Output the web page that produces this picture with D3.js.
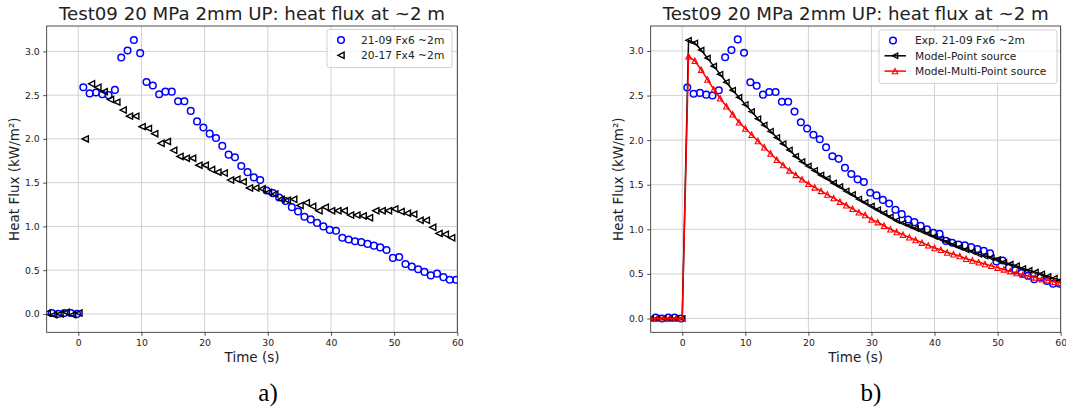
<!DOCTYPE html>
<html>
<head>
<meta charset="utf-8">
<script src="https://cdnjs.cloudflare.com/ajax/libs/d3/7.8.5/d3.min.js"></script>
<style>
body { margin: 0; background: #fff; }
text { font-family: "DejaVu Sans", sans-serif; fill: #222; }
</style>
</head>
<body>
<script>
// values (time in s, flux in kW/m2)
var expTime = [-4.2, -3.2, -2.2, -1.2, -0.2,
    0.8, 1.8, 2.8, 3.8, 4.8, 5.8, 6.8, 7.8, 8.8, 9.8,
    10.8, 11.8, 12.8, 13.8, 14.8, 15.8, 16.8, 17.8, 18.8, 19.8,
    20.8, 21.8, 22.8, 23.8, 24.8, 25.8, 26.8, 27.8, 28.8, 29.8,
    30.8, 31.8, 32.8, 33.8, 34.8, 35.8, 36.8, 37.8, 38.8, 39.8,
    40.8, 41.8, 42.8, 43.8, 44.8, 45.8, 46.8, 47.8, 48.8, 49.8,
    50.8, 51.8, 52.8, 53.8, 54.8, 55.8, 56.8, 57.8, 58.8, 59.8];
var expFlux = [0.01, 0.00, 0.01, 0.01, 0.00,
    2.59, 2.52, 2.53, 2.51, 2.50, 2.56, 2.93, 3.01, 3.13, 2.98,
    2.65, 2.61, 2.51, 2.54, 2.54, 2.43, 2.43, 2.32, 2.20, 2.13,
    2.06, 2.01, 1.92, 1.82, 1.79, 1.69, 1.62, 1.56, 1.53, 1.41,
    1.38, 1.33, 1.29, 1.22, 1.17, 1.11, 1.08, 1.04, 1.00, 0.96,
    0.95, 0.87, 0.85, 0.83, 0.82, 0.80, 0.78, 0.76, 0.73, 0.64,
    0.65, 0.57, 0.54, 0.51, 0.48, 0.44, 0.46, 0.42, 0.39, 0.39];

var refTime = [-4.9, -3.9, -2.9, -1.9, -0.9, 0.1,
    1.1, 2.1, 3.1, 4.1, 5.1, 6.1, 7.1, 8.1, 9.1,
    10.1, 11.1, 12.1, 13.1, 14.1, 15.1, 16.1, 17.1, 18.1, 19.1,
    20.1, 21.1, 22.1, 23.1, 24.1, 25.1, 26.1, 27.1, 28.1, 29.1,
    30.1, 31.1, 32.1, 33.1, 34.1, 35.1, 36.1, 37.1, 38.1, 39.1,
    40.1, 41.1, 42.1, 43.1, 44.1, 45.1, 46.1, 47.1, 48.1, 49.1,
    50.1, 51.1, 52.1, 53.1, 54.1, 55.1, 56.1, 57.1, 58.1, 59.1];
var refFlux = [0.01, -0.01, 0.00, 0.02, -0.01, 0.01,
    2.00, 2.63, 2.59, 2.54, 2.45, 2.42, 2.33, 2.26, 2.26,
    2.14, 2.12, 2.06, 1.95, 1.97, 1.87, 1.80, 1.78, 1.78, 1.70,
    1.70, 1.65, 1.62, 1.61, 1.53, 1.54, 1.51, 1.44, 1.44, 1.43,
    1.39, 1.37, 1.31, 1.30, 1.31, 1.24, 1.27, 1.23, 1.18, 1.22,
    1.18, 1.18, 1.18, 1.13, 1.13, 1.12, 1.10, 1.18, 1.18, 1.18,
    1.20, 1.17, 1.15, 1.14, 1.07, 1.07, 0.99, 0.92, 0.91, 0.87];

var modelTime = [-5, -4, -3, -2, -1, 0,
    1, 2, 3, 4, 5, 6, 7, 8, 9, 10,
    11, 12, 13, 14, 15, 16, 17, 18, 19, 20,
    21, 22, 23, 24, 25, 26, 27, 28, 29, 30,
    31, 32, 33, 34, 35, 36, 37, 38, 39, 40,
    41, 42, 43, 44, 45, 46, 47, 48, 49, 50,
    51, 52, 53, 54, 55, 56, 57, 58, 59, 60];
var pointSource = [0, 0, 0, 0, 0, 0,
    3.12, 3.09, 3.01, 2.92, 2.83, 2.74, 2.65, 2.56, 2.48, 2.40,
    2.32, 2.24, 2.17, 2.10, 2.03, 1.96, 1.89, 1.82, 1.76, 1.71,
    1.66, 1.61, 1.57, 1.52, 1.48, 1.43, 1.39, 1.34, 1.30, 1.26,
    1.22, 1.18, 1.14, 1.10, 1.07, 1.04, 1.01, 0.98, 0.95, 0.92,
    0.89, 0.86, 0.83, 0.80, 0.77, 0.75, 0.72, 0.70, 0.68, 0.66,
    0.63, 0.61, 0.59, 0.56, 0.54, 0.52, 0.50, 0.47, 0.45, 0.43];
var multiSource = [0, 0, 0, 0, 0, 0,
    2.94, 2.89, 2.79, 2.68, 2.57, 2.47, 2.38, 2.29, 2.20, 2.13,
    2.06, 1.99, 1.92, 1.85, 1.78, 1.72, 1.66, 1.61, 1.56, 1.51,
    1.47, 1.43, 1.39, 1.35, 1.31, 1.27, 1.23, 1.19, 1.16, 1.11,
    1.08, 1.04, 1.00, 0.97, 0.94, 0.91, 0.88, 0.85, 0.82, 0.79,
    0.77, 0.74, 0.72, 0.70, 0.67, 0.65, 0.63, 0.61, 0.59, 0.57,
    0.55, 0.53, 0.51, 0.49, 0.47, 0.46, 0.44, 0.43, 0.41, 0.40];

var xTicks = [0, 10, 20, 30, 40, 50, 60];
var yTicks = [0, 0.5, 1.0, 1.5, 2.0, 2.5, 3.0];
var titleText = "Test09 20 MPa 2mm UP: heat flux at ~2 m";
var leftLegend = ["21-09 Fx6 ~2m", "20-17 Fx4 ~2m"];
var rightLegend = ["Exp. 21-09 Fx6 ~2m", "Model-Point source", "Model-Multi-Point source"];

var svg = d3.select("body").append("svg")
            .attr("width", 1066)
            .attr("height", 410);

var plotTop = 26,
    plotBottom = 332.3,
    gridColor = "#d2d2d2",
    circleR = 3.3;

// matplotlib-like triangle, bounding box centred on the point
function triPath(r, dir) {
    if (dir === "left") {
        return "M" + (-r) + ",0L" + r + "," + (-r) + "L" + r + "," + r + "Z";
    }
    return "M0," + (-r) + "L" + r + "," + r + "L" + (-r) + "," + r + "Z";
}

function zip(xs, ys) {
    return xs.map(function(d, i) { return [d, ys[i]]; });
}

function drawPanel(opt) {
    var g = svg.append("g"),
        x = d3.scaleLinear().domain([-5, 60]).range([opt.left, opt.right]),
        y = d3.scaleLinear().domain(opt.yDomain).range([plotBottom, plotTop]);

    g.append("clipPath")
     .attr("id", opt.id + "clip")
     .append("rect")
     .attr("x", opt.left)
     .attr("y", plotTop)
     .attr("width", opt.right - opt.left)
     .attr("height", plotBottom - plotTop);

    // grid
    g.selectAll(".vgrid")
     .data(xTicks)
     .enter().append("line")
     .attr("x1", function(d) { return x(d); })
     .attr("x2", function(d) { return x(d); })
     .attr("y1", plotTop)
     .attr("y2", plotBottom)
     .style("stroke", gridColor)
     .style("stroke-width", 1);
    g.selectAll(".hgrid")
     .data(yTicks)
     .enter().append("line")
     .attr("x1", opt.left)
     .attr("x2", opt.right)
     .attr("y1", function(d) { return y(d); })
     .attr("y2", function(d) { return y(d); })
     .style("stroke", gridColor)
     .style("stroke-width", 1);

    var xAxis = g.append("g")
                 .attr("transform", "translate(0," + plotBottom + ")")
                 .call(d3.axisBottom(x).tickValues(xTicks).tickSize(3.5).tickPadding(3.5).tickSizeOuter(0));
    var yAxis = g.append("g")
                 .attr("transform", "translate(" + opt.left + ",0)")
                 .call(d3.axisLeft(y).tickValues(yTicks).tickFormat(d3.format(".1f")).tickSize(3.5).tickPadding(3.5).tickSizeOuter(0));
    [xAxis, yAxis].forEach(function(a) {
        a.select(".domain").remove();
        a.selectAll("line").style("stroke", "#222").style("stroke-width", 0.8);
        a.selectAll("text")
         .style("font-family", "DejaVu Sans")
         .style("font-size", "9.3px")
         .style("fill", "#222");
    });

    var marks = g.append("g").attr("clip-path", "url(#" + opt.id + "clip)");
    opt.series.forEach(function(s) {
        var pts = zip(s.xs, s.ys);
        if (s.line) {
            marks.append("path")
                 .datum(pts)
                 .attr("d", d3.line().x(function(d) { return x(d[0]); }).y(function(d) { return y(d[1]); }))
                 .style("fill", "none")
                 .style("stroke", s.color)
                 .style("stroke-width", 1.5);
        }
        if (s.marker === "o") {
            marks.selectAll(null)
                 .data(pts)
                 .enter().append("circle")
                 .attr("cx", function(d) { return x(d[0]); })
                 .attr("cy", function(d) { return y(d[1]); })
                 .attr("r", circleR)
                 .style("fill", "none")
                 .style("stroke", s.color)
                 .style("stroke-width", 1.5);
        } else {
            marks.selectAll(null)
                 .data(pts)
                 .enter().append("path")
                 .attr("d", triPath(s.size, s.marker))
                 .attr("transform", function(d) { return "translate(" + x(d[0]) + "," + y(d[1]) + ")"; })
                 .style("fill", "none")
                 .style("stroke", s.color)
                 .style("stroke-width", s.sw);
        }
    });

    // frame
    g.append("rect")
     .attr("x", opt.left)
     .attr("y", plotTop)
     .attr("width", opt.right - opt.left)
     .attr("height", plotBottom - plotTop)
     .style("fill", "none")
     .style("stroke", "#222")
     .style("stroke-width", 0.8);

    var cx = (opt.left + opt.right) / 2;
    g.append("text")
     .attr("x", cx)
     .attr("y", 20)
     .attr("text-anchor", "middle")
     .style("font-size", "18.2px")
     .text(titleText);
    g.append("text")
     .attr("x", cx)
     .attr("y", 361.5)
     .attr("text-anchor", "middle")
     .style("font-size", "13.5px")
     .text("Time (s)");
    g.append("text")
     .attr("transform", "translate(" + (opt.left - 32) + "," + ((plotTop + plotBottom) / 2) + ") rotate(-90)")
     .attr("text-anchor", "middle")
     .attr("dy", "0.35em")
     .style("font-size", "13.5px")
     .text("Heat Flux (kW/m²)");
    g.append("text")
     .attr("x", opt.tag[1])
     .attr("y", 401)
     .attr("text-anchor", "middle")
     .style("font-family", "Liberation Serif, serif")
     .style("font-size", "25px")
     .style("fill", "#000")
     .text(opt.tag[0]);

    // legend
    var lg = opt.legend,
        box = g.append("g");
    box.append("rect")
       .attr("x", lg.x)
       .attr("y", lg.y)
       .attr("width", lg.w)
       .attr("height", lg.rows.length * 15.3 + 7.5)
       .attr("rx", 2.5)
       .style("fill", "#fff")
       .style("fill-opacity", 0.8)
       .style("stroke", "#d0d0d0")
       .style("stroke-width", 1);
    lg.rows.forEach(function(label, i) {
        var s = opt.series[i],
            ry = lg.y + 10.5 + i * 15.3,
            mx = lg.x + (s.line ? 16 : 14);
        if (s.line) {
            box.append("line")
               .attr("x1", lg.x + 5.5).attr("x2", lg.x + 27)
               .attr("y1", ry).attr("y2", ry)
               .style("stroke", s.color)
               .style("stroke-width", 1.5);
        }
        if (s.marker === "o") {
            box.append("circle")
               .attr("cx", mx).attr("cy", ry).attr("r", circleR)
               .style("fill", "none").style("stroke", s.color).style("stroke-width", 1.5);
        } else {
            box.append("path")
               .attr("d", triPath(s.size, s.marker))
               .attr("transform", "translate(" + mx + "," + ry + ")")
               .style("fill", "none").style("stroke", s.color).style("stroke-width", s.sw);
        }
        box.append("text")
           .attr("x", lg.x + lg.textGap)
           .attr("y", ry)
           .attr("dy", "0.35em")
           .style("font-size", "10.7px")
           .text(label);
    });
}

drawPanel({
    id: "a",
    left: 46.7,
    right: 457.3,
    yDomain: [-0.21, 3.29],
    tag: ["a)", 268],
    series: [
        {xs: expTime, ys: expFlux, color: "#0000ff", marker: "o"},
        {xs: refTime, ys: refFlux, color: "#000", marker: "left", size: 3.1, sw: 1.4}
    ],
    legend: {x: 327, y: 29.5, w: 125, textGap: 34, rows: leftLegend}
});

drawPanel({
    id: "b",
    left: 650.7,
    right: 1060.7,
    yDomain: [-0.155, 3.28],
    tag: ["b)", 871],
    series: [
        {xs: expTime, ys: expFlux, color: "#0000ff", marker: "o"},
        {xs: modelTime, ys: pointSource, color: "#000", marker: "left", size: 2.7, sw: 1.3, line: true},
        {xs: modelTime, ys: multiSource, color: "#ff0000", marker: "up", size: 2.7, sw: 1.1, line: true}
    ],
    legend: {x: 879, y: 30, w: 178, textGap: 36, rows: rightLegend}
});
</script>
</body>
</html>
